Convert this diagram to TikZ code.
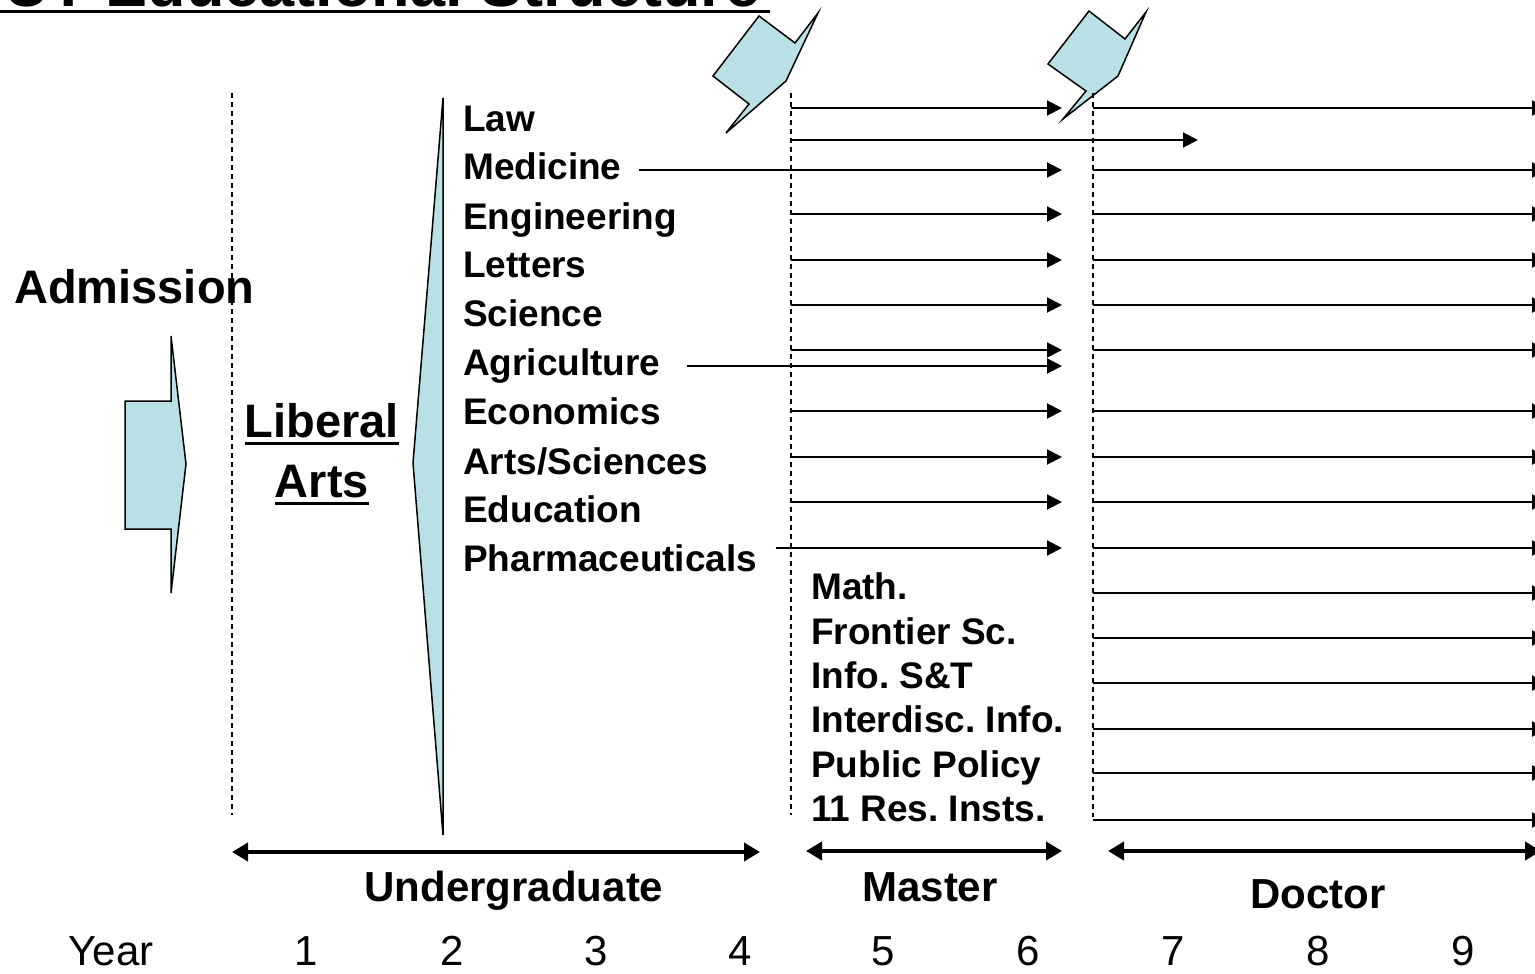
\documentclass[tikz,border=0pt]{standalone}
\usepackage{fontspec}
\setmainfont{Liberation Sans}
\usepackage{tikz}
\usetikzlibrary{arrows.meta,calc}
\definecolor{boxblue}{RGB}{185,224,228}
\newcommand\ttlfont{\fontsize{63}{70}\selectfont\bfseries}
\newcommand\admfont{\fontsize{47}{56}\selectfont\bfseries}
\newcommand\listfont{\fontsize{37}{44}\selectfont\bfseries}
\newcommand\barfont{\fontsize{42}{50}\selectfont\bfseries}
\newcommand\yearfont{\fontsize{42}{50}\selectfont}
\frenchspacing

\begin{document}
\begin{tikzpicture}[x=1pt,y=-1pt,
  callout/.style={fill=boxblue,draw=black,line width=1.5pt},
  vline/.style={line width=1.3pt,dash pattern=on 5pt off 4pt},
  arr/.style={line width=2pt,-{Triangle[length=15pt,width=15pt]}},
  span/.style={line width=4pt,{Triangle[length=16pt,width=18pt]}-{Triangle[length=16pt,width=18pt]}},
  uline/.style={line width=3pt},
  lbl/.style={anchor=west,inner sep=0pt,font=\listfont,text height=26.5pt,text depth=0pt},
  big/.style={inner sep=0pt,font=\admfont,text height=33.7pt,text depth=0pt},
  bar/.style={inner sep=0pt,font=\barfont,text height=30pt,text depth=0pt},
  yr/.style={inner sep=0pt,font=\yearfont,text height=30pt,text depth=0pt}]
\useasboundingbox (0,0) rectangle (1535,974);

% title, cut at the top
\node[anchor=base west,inner sep=0pt,font=\ttlfont] (ttl) at (4,7) {UT Educational Structure};
\draw[uline] (0,11.5) -- (770,11.5);

% shapes
\draw[callout] (125,401) -- (171,401) -- (171,336) -- (186,464) -- (171,593) -- (171,529) -- (125,529) -- cycle;
\draw[callout] (443,98) -- (443,835) -- (413,463) -- cycle;
\draw[callout] (713,76) -- (759,16) -- (795,43) -- (818,13) -- (786,81) -- (726,133) -- (749,104) -- cycle;
\draw[callout] (1048,64) -- (1089,11) -- (1125,39) -- (1146,12) -- (1118,76) -- (1063,119) -- (1086,91) -- cycle;

% dashed year lines
\draw[vline] (232,93) -- (232,815);
\draw[vline] (791,93) -- (791,815);
\draw[vline] (1093,93) -- (1093,817);

\node[big,anchor=west] (adm) at (14,287) {Admission};
\node[big] (lib) at (322,421) {Liberal};
\node[big] (arts) at (322,481) {Arts};
\draw[uline] ([yshift=-5pt]lib.south west) -- ([yshift=-5pt]lib.south east);
\draw[uline] ([yshift=-5pt]arts.south west) -- ([yshift=-5pt]arts.south east);

% faculties
\node[lbl] (law) at (463,118) {Law};
\node[lbl] (med) at (463,166) {Medicine};
\node[lbl] (eng) at (463,216) {Engineering};
\node[lbl] (let) at (463,264) {Letters};
\node[lbl] (sci) at (463,313) {Science};
\node[lbl] (agr) at (463,362) {Agriculture};
\node[lbl] (eco) at (463,411) {Economics};
\node[lbl] (artsci) at (463,461) {Arts/Sciences};
\node[lbl] (edu) at (463,509) {Education};
\node[lbl] (pha) at (463,558) {Pharmaceuticals};

% graduate schools
\node[lbl] (math) at (811,586) {Math.};
\node[lbl] (fro) at (811,631) {Frontier Sc.};
\node[lbl] (info) at (811,675) {Info. S\&T};
\node[lbl] (inter) at (811,719) {Interdisc. Info.};
\node[lbl] (pub) at (811,764) {Public Policy};
\node[lbl] (res) at (811,808) {11 Res. Insts.};

\coordinate (mL) at (791,0);
\coordinate (mR) at (1062,0);
\coordinate (dL) at (1093,0);
\coordinate (dR) at (1547,0);
\coordinate (r1) at (0,108);
\coordinate (r2) at (0,140);
\coordinate (r3) at (0,170);
\coordinate (r4) at (0,214);
\coordinate (r5) at (0,260);
\coordinate (r6) at (0,305);
\coordinate (r7) at (0,350);
\coordinate (r8) at (0,366);
\coordinate (r9) at (0,411);
\coordinate (r10) at (0,457);
\coordinate (r11) at (0,502);
\coordinate (r12) at (0,548);
\coordinate (r13) at (0,593);
\coordinate (r14) at (0,638);
\coordinate (r15) at (0,683);
\coordinate (r16) at (0,729);
\coordinate (r17) at (0,773);
\coordinate (r18) at (0,820);
\coordinate (medR) at ([xshift=17pt]med.east);
\coordinate (agrR) at ([xshift=26pt]agr.east);
\coordinate (phaR) at ([xshift=18pt]pha.east);

% master
\draw[arr] (mL |- r1) -- (mR |- r1);
\draw[arr] (mL |- r2) -- (1198,140);
\draw[arr] (medR |- r3) -- (mR |- r3);
\draw[arr] (mL |- r4) -- (mR |- r4);
\draw[arr] (mL |- r5) -- (mR |- r5);
\draw[arr] (mL |- r6) -- (mR |- r6);
\draw[arr] (mL |- r7) -- (mR |- r7);
\draw[arr] (agrR |- r8) -- (mR |- r8);
\draw[arr] (mL |- r9) -- (mR |- r9);
\draw[arr] (mL |- r10) -- (mR |- r10);
\draw[arr] (mL |- r11) -- (mR |- r11);
\draw[arr] (phaR |- r12) -- (mR |- r12);

% doctor
\draw[arr] (dL |- r1) -- (dR |- r1);
\draw[arr] (dL |- r3) -- (dR |- r3);
\draw[arr] (dL |- r4) -- (dR |- r4);
\draw[arr] (dL |- r5) -- (dR |- r5);
\draw[arr] (dL |- r6) -- (dR |- r6);
\draw[arr] (dL |- r7) -- (dR |- r7);
\draw[arr] (dL |- r9) -- (dR |- r9);
\draw[arr] (dL |- r10) -- (dR |- r10);
\draw[arr] (dL |- r11) -- (dR |- r11);
\draw[arr] (dL |- r12) -- (dR |- r12);
\draw[arr] (dL |- r13) -- (dR |- r13);
\draw[arr] (dL |- r14) -- (dR |- r14);
\draw[arr] (dL |- r15) -- (dR |- r15);
\draw[arr] (dL |- r16) -- (dR |- r16);
\draw[arr] (dL |- r17) -- (dR |- r17);
\draw[arr] (dL |- r18) -- (dR |- r18);

% periods
\coordinate (ugL) at (232,852);
\coordinate (ugR) at (760,852);
\coordinate (maL) at (806,851);
\coordinate (maR) at (1062,851);
\coordinate (drL) at (1108,851);
\coordinate (drR) at (1541,851);
\draw[span] (ugL) -- (ugR);
\draw[span] (maL) -- (maR);
\draw[span] (drL) -- (drR);
\node[bar] (ug) at (514,886) {Undergraduate};
\node[bar] (ma) at (930,886) {Master};
\node[bar] (dr) at (1318,893) {Doctor};

% years
\node[yr] (year) at (111,950) {Year};
\node[yr] (y1) at (306,950) {1};
\node[yr] (y2) at (452,950) {2};
\node[yr] (y3) at (596,950) {3};
\node[yr] (y4) at (740,950) {4};
\node[yr] (y5) at (883,950) {5};
\node[yr] (y6) at (1028,950) {6};
\node[yr] (y7) at (1173,950) {7};
\node[yr] (y8) at (1318,950) {8};
\node[yr] (y9) at (1463,950) {9};
\end{tikzpicture}
\end{document}
